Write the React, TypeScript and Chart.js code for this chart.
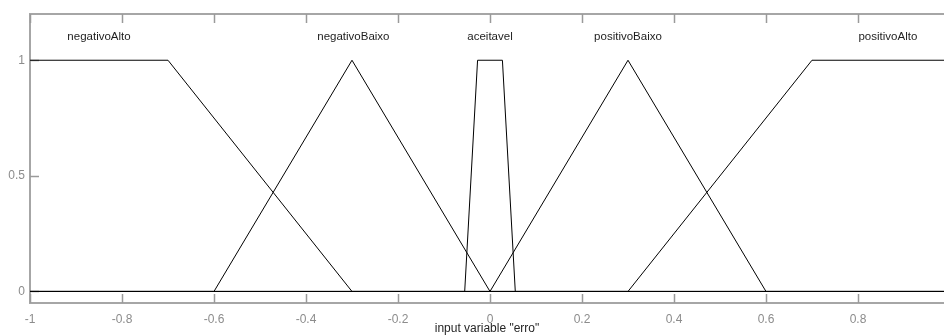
import React, { useEffect, useRef } from "react";
import { Chart, registerables } from "chart.js";

Chart.register(...registerables);

// Membership function names and their sampled shapes (x, membership)
const mfNames = ["negativoAlto", "negativoBaixo", "aceitavel", "positivoBaixo", "positivoAlto"];
const negativoAlto = [[-1, 1], [-0.7, 1], [-0.3, 0], [1, 0]];
const negativoBaixo = [[-1, 0], [-0.6, 0], [-0.3, 1], [0, 0], [1, 0]];
const aceitavel = [[-1, 0], [-0.055, 0], [-0.027, 1], [0.027, 1], [0.055, 0], [1, 0]];
const positivoBaixo = [[-1, 0], [0, 0], [0.3, 1], [0.6, 0], [1, 0]];
const positivoAlto = [[-1, 0], [0.3, 0], [0.7, 1], [1, 1]];
const mfShapes = [negativoAlto, negativoBaixo, aceitavel, positivoBaixo, positivoAlto];

// Label anchor positions (x) and height
const labelX = [-0.85, -0.297, 0, 0.3, 0.865];
const labelY = 1.1;

// Visible x range (the axes box runs off the right edge of the picture)
const xMin = -1;
const xMaxVisible = 0.987;
const xTicks = [-1, -0.8, -0.6, -0.4, -0.2, 0, 0.2, 0.4, 0.6, 0.8];
const yTicks = [0, 0.5, 1];
const xTitle = 'input variable "erro"';

const FONT = "'Liberation Sans', Arial, sans-serif";

const framePlugin = {
  id: "matlabFrame",
  beforeDatasetsDraw(chart: any) {
    const { ctx, chartArea } = chart;
    const { left, right, top, bottom } = chartArea;
    const xs = chart.scales.x;
    const ys = chart.scales.y;
    ctx.save();
    ctx.strokeStyle = "#a6a6a6";
    ctx.lineWidth = 2;
    ctx.beginPath();
    ctx.moveTo(right + 2, top);
    ctx.lineTo(left, top);
    ctx.lineTo(left, bottom);
    ctx.lineTo(right + 2, bottom);
    ctx.stroke();
    ctx.lineWidth = 1.5;
    ctx.strokeStyle = "#9a9a9a";
    ctx.beginPath();
    xTicks.forEach((v) => {
      const px = Math.round(xs.getPixelForValue(v)) + 0.5;
      ctx.moveTo(px, top);
      ctx.lineTo(px, top + 9);
      ctx.moveTo(px, bottom);
      ctx.lineTo(px, bottom - 9);
    });
    yTicks.forEach((v) => {
      const py = Math.round(ys.getPixelForValue(v)) + 0.5;
      ctx.moveTo(left, py);
      ctx.lineTo(left + 9, py);
    });
    ctx.stroke();
    ctx.restore();
  },
};

const labelPlugin = {
  id: "mfLabels",
  afterDatasetsDraw(chart: any) {
    const { ctx } = chart;
    const xs = chart.scales.x;
    const ys = chart.scales.y;
    ctx.save();
    ctx.fillStyle = "#1e1e1e";
    ctx.font = `11.5px ${FONT}`;
    ctx.textAlign = "center";
    ctx.textBaseline = "middle";
    mfNames.forEach((name, i) => {
      ctx.fillText(name, xs.getPixelForValue(labelX[i]), ys.getPixelForValue(labelY));
    });
    ctx.restore();
  },
};

export default function App() {
  const ref = useRef<HTMLCanvasElement | null>(null);

  useEffect(() => {
    if (!ref.current) return;
    const chart = new Chart(ref.current, {
      type: "scatter",
      data: {
        datasets: mfShapes.map((shape, i) => ({
          label: mfNames[i],
          data: shape.map(([x, y]) => ({ x, y })),
          showLine: true,
          borderColor: "#000000",
          borderWidth: 1,
          pointRadius: 0,
          pointHoverRadius: 0,
          fill: false,
          tension: 0,
        })),
      },
      options: {
        animation: false,
        responsive: false,
        devicePixelRatio: 1,
        layout: { padding: { top: 14, right: 0, left: 0, bottom: 0 } },
        plugins: {
          legend: { display: false },
          tooltip: { enabled: false },
          title: { display: false },
        },
        events: [],
        scales: {
          x: {
            type: "linear",
            min: xMin,
            max: xMaxVisible,
            afterBuildTicks: (s: any) => {
              s.ticks = xTicks.map((v) => ({ value: v }));
            },
            afterFit: (s: any) => {
              s.height = 33;
            },
            grid: { display: false, drawTicks: false },
            border: { display: false },
            ticks: {
              color: "#8c8c8c",
              padding: 9,
              font: { size: 12, family: FONT },
              maxRotation: 0,
              autoSkip: false,
              callback: (v: any) => String(Number(Number(v).toFixed(1))),
            },
            title: {
              display: true,
              text: xTitle,
              color: "#262626",
              font: { size: 12, family: FONT },
              padding: { top: 0, bottom: 0 },
            },
          },
          y: {
            type: "linear",
            min: -0.05,
            max: 1.2,
            afterBuildTicks: (s: any) => {
              s.ticks = yTicks.map((v) => ({ value: v }));
            },
            afterFit: (s: any) => {
              s.width = 30;
            },
            grid: { display: false, drawTicks: false },
            border: { display: false },
            ticks: {
              color: "#8c8c8c",
              padding: 5,
              font: { size: 12, family: FONT },
              callback: (v: any) => String(v),
            },
          },
        },
      },
      plugins: [labelPlugin, framePlugin],
    });
    return () => chart.destroy();
  }, []);

  return (
    <div
      style={{
        position: "fixed",
        left: 0,
        top: 0,
        width: 944,
        height: 336,
        overflow: "hidden",
        background: "#ffffff",
      }}
    >
      <canvas ref={ref} width={944} height={336} style={{ display: "block", width: 944, height: 336 }} />
    </div>
  );
}
